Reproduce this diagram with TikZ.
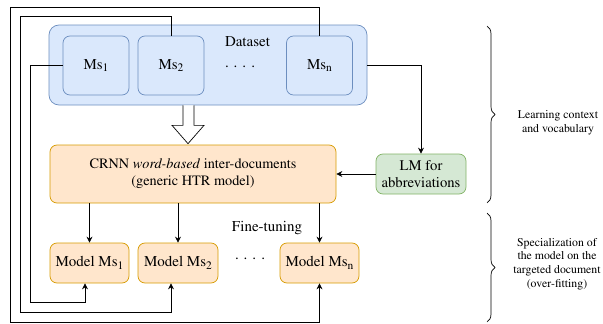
\documentclass[tikz,border=0pt]{standalone}
\usepackage[T1]{fontenc}
\usepackage{times}
\usetikzlibrary{arrows.meta,decorations.pathreplacing,calc}

\definecolor{dsfill}{HTML}{DAE8FC}
\definecolor{dsline}{HTML}{6C8EBF}
\definecolor{orfill}{HTML}{FFE6CC}
\definecolor{orline}{HTML}{D79B00}
\definecolor{grfill}{HTML}{D5E8D4}
\definecolor{grline}{HTML}{82B366}

% subscript in the style of the figure: large digit, set low
\newcommand{\lowsub}[1]{\raisebox{-0.35ex}{\fontsize{11.5}{11.5}\selectfont #1}}

\begin{document}
\begin{tikzpicture}[x=1pt,y=-1pt,
  every node/.style={inner sep=0pt, align=center},
  base/.style={draw, line width=0.7pt, rounded corners=7pt},
  dsbox/.style={base, draw=dsline, fill=dsfill},
  orbox/.style={base, draw=orline, fill=orfill},
  grbox/.style={base, draw=grline, fill=grfill},
  bigtxt/.style={font=\fontsize{15}{17.5}\selectfont},
  crnntxt/.style={font=\fontsize{14.3}{17}\selectfont},
  lmtxt/.style={font=\fontsize{14.7}{17.5}\selectfont},
  midtxt/.style={font=\fontsize{15}{17}\selectfont},
  sidetxt/.style={font=\fontsize{11.8}{13.6}\selectfont},
  link/.style={draw, line width=0.7pt},
  arr/.style={link, -{Stealth[length=6pt,width=6pt]}},
  bracestyle/.style={draw, line width=0.7pt, decorate, decoration={brace, amplitude=8pt}}
]
\useasboundingbox (0,0) rectangle (603,324);

% dataset container and its manuscripts
\node[dsbox, rounded corners=10pt, minimum width=318pt, minimum height=80pt] (dataset) at (208,65) {};
\node[bigtxt] (dslabel) at (247.5,42) {Dataset};
\node[dsbox, minimum width=66pt, minimum height=59pt] (ms1) at (96,65.5) {};
\node[dsbox, minimum width=66pt, minimum height=59pt] (ms2) at (171,65.5) {};
\node[dsbox, minimum width=66pt, minimum height=59pt] (msn) at (319.5,65.5) {};
\node[bigtxt] (ms1t) at (ms1) {Ms\lowsub{1}};
\node[bigtxt] (ms2t) at (ms2) {Ms\lowsub{2}};
\node[bigtxt] (msnt) at (msn) {Ms\lowsub{n}};
\node[bigtxt] (dots1) at (240,67) {.\,\,.\,\,.\,\,.};

% generic model and language model
\node[orbox, minimum width=286pt, minimum height=58pt, crnntxt] (crnn) at (193,174)
  {CRNN \textit{word-based} inter-documents\\(generic HTR model)};
\node[grbox, minimum width=90pt, minimum height=40pt, lmtxt] (lm) at (421,174)
  {LM for\\abbreviations};

% fine-tuned models
\node[orbox, minimum width=79pt, minimum height=40pt, midtxt] (m1) at (89.5,263) {Model Ms\lowsub{1}};
\node[orbox, minimum width=80pt, minimum height=40pt, midtxt] (m2) at (178,263) {Model Ms\lowsub{2}};
\node[orbox, minimum width=79pt, minimum height=40pt, midtxt] (mn) at (319.5,263) {Model Ms\lowsub{n}};
\node[midtxt] (dots2) at (250,259) {.\,\,.\,\,.\,\,.};
\node[midtxt] (ft) at (267,228) {Fine-tuning};

% hollow arrow from dataset to generic model
\draw[line width=0.7pt, fill=white]
  ($(dataset.south)+(-25,0)$) -- ++(0,20) -- ++(-11,0)
  -- ($(crnn.north)+(-5,-1)$)
  -- ($(dataset.south)+(-4,20)$) -- ++(-10,0) -- ($(dataset.south)+(-14,0)$);

% connectors
\draw[arr] (dataset.east) -| (lm.north);
\draw[arr] (lm.west) -- (crnn.east);
\draw[arr] (crnn.south -| m1.north) -- (m1.north);
\draw[arr] (crnn.south -| m2.north) -- (m2.north);
\draw[arr] (crnn.south -| mn.north) -- (mn.north);

% each manuscript feeds its own fine-tuned model
\draw[arr] (msn.north) |- (10,7) |- ($(mn.south)+(0,39)$) -- (mn.south);
\draw[arr] (ms2.north) |- (20,16) |- ($(ms2.north |- m2.south)+(0,29)$) -- (ms2.north |- m2.south);
\draw[arr] (ms1.west) -| (30,302) -| ($(m1.south)+(-4.5,0)$);

% braces and stage labels
\draw[bracestyle] (487,26) -- (487,203);
\draw[bracestyle] (487,213) -- (487,322);
\node[sidetxt] (stage1) at (558,123) {Learning context\\and vocabulary};
\node[sidetxt] (stage2) at (557,264) {Specialization of\\the model on the\\targeted document\\(over-fitting)};
\end{tikzpicture}
\end{document}
